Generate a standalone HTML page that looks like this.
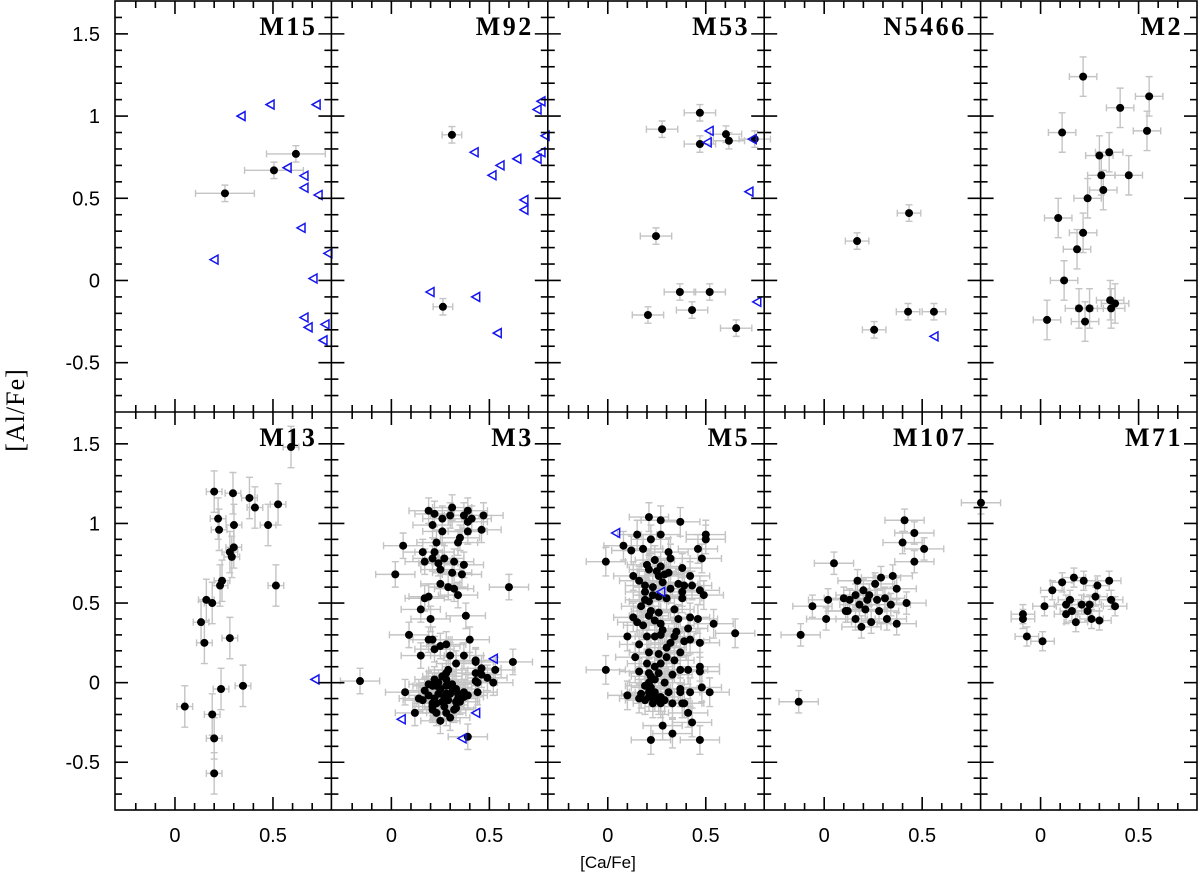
<!DOCTYPE html>
<html><head><meta charset="utf-8"><style>
body{margin:0;background:#fff;}
svg{display:block;}
</style></head><body>
<svg id="chart" width="1200" height="882" xmlns="http://www.w3.org/2000/svg">
<text x="0" y="0" transform="translate(24,410) rotate(-90)" text-anchor="middle" font-family="Liberation Serif, serif" font-size="26" letter-spacing="1">[Al/Fe]</text>
<text x="608" y="868" text-anchor="middle" font-family="Liberation Sans, sans-serif" font-size="17">[Ca/Fe]</text>
</svg>
<script>
const clusterNames=["M15","M92","M53","N5466","M2","M13","M3","M5","M107","M71"];
const xTickLabels=["0","0.5"];
const yTickLabels=["-0.5","0","0.5","1","1.5"];
const xerrs=[0.15,0.05,0.08,0.06,0.07,0.04,0.10,0.10,0.10,0.06];
const yerrs=[0.05,0.05,0.05,0.05,0.12,0.13,0.08,0.09,0.07,0.06];
const m15X=[0.255,0.505,0.617];
const m15Y=[0.53,0.67,0.77];
const m15TX=[0.337,0.485,0.72,0.572,0.658,0.658,0.73,0.643,0.78,0.199,0.704,0.658,0.679,0.765,0.755];
const m15TY=[1.0,1.07,1.07,0.686,0.637,0.564,0.52,0.32,0.165,0.127,0.012,-0.225,-0.285,-0.267,-0.364];
const m92X=[0.309,0.263];
const m92Y=[0.886,-0.16];
const m92TX=[0.743,0.763,0.784,0.763,0.743,0.422,0.64,0.554,0.513,0.676,0.676,0.197,0.43,0.54];
const m92TY=[1.04,1.09,0.88,0.78,0.74,0.78,0.74,0.70,0.64,0.49,0.43,-0.07,-0.10,-0.32];
const m53X=[0.277,0.47,0.47,0.603,0.618,0.75,0.246,0.368,0.52,0.43,0.205,0.655];
const m53Y=[0.92,1.02,0.83,0.89,0.85,0.86,0.27,-0.07,-0.07,-0.18,-0.21,-0.29];
const m53TX=[0.517,0.507,0.737,0.72,0.76];
const m53TY=[0.91,0.84,0.86,0.54,-0.13];
const n5466X=[0.168,0.433,0.255,0.428,0.56];
const n5466Y=[0.24,0.41,-0.30,-0.19,-0.19];
const n5466TX=[0.56];
const n5466TY=[-0.34];
const m2X=[0.217,0.406,0.554,0.543,0.11,0.30,0.35,0.31,0.32,0.24,0.45,0.09,0.217,0.186,0.12,0.033,0.196,0.227,0.25,0.36,0.355,0.38];
const m2Y=[1.24,1.05,1.12,0.91,0.90,0.76,0.78,0.64,0.55,0.50,0.64,0.38,0.29,0.19,0.0,-0.24,-0.17,-0.25,-0.17,-0.17,-0.12,-0.14];
const m13X=[0.592,0.2,0.296,0.38,0.22,0.301,0.475,0.526,0.408,0.225,0.30,0.28,0.29,0.24,0.23,0.16,0.19,0.133,0.15,0.28,0.515,0.347,0.235,0.05,0.19,0.2,0.2];
const m13Y=[1.48,1.20,1.19,1.16,1.03,0.99,0.99,1.12,1.10,0.96,0.85,0.82,0.79,0.64,0.61,0.52,0.50,0.38,0.25,0.28,0.61,-0.02,-0.04,-0.15,-0.20,-0.35,-0.57];
const m13TX=[0.714];
const m13TY=[0.02];
const m3X=[0.19,0.22,0.26,0.30,0.31,0.37,0.39,0.41,0.39,0.47,0.21,0.26,0.39,0.46,0.35,0.34,0.23,0.06,0.16,0.22,0.21,0.17,0.24,0.27,0.32,0.37,0.25,0.31,0.36,0.02,0.25,0.29,0.32,0.34,0.60,0.19,0.17,0.15,0.20,0.38,0.09,0.40,0.19,0.21,0.25,0.28,0.22,0.15,0.30,0.37,0.33,0.43,0.43,0.62,0.53,0.46,0.46,0.49,0.43,0.52,0.44,0.43,0.44,-0.16,0.07,0.29,0.28,0.26,0.22,0.21,0.17,0.19,0.22,0.24,0.28,0.31,0.33,0.34,0.37,0.39,0.14,0.16,0.21,0.26,0.29,0.33,0.34,0.28,0.24,0.12,0.23,0.25,0.28,0.30,0.32,0.21,0.39,0.37,0.30,0.27,0.23,0.28,0.21,0.35,0.25,0.31,0.19,0.27,0.33,0.23];
const m3Y=[1.08,1.06,1.03,1.05,1.10,1.05,1.08,1.03,1.01,1.05,0.99,0.95,0.95,0.96,0.91,0.88,0.88,0.86,0.82,0.82,0.78,0.76,0.75,0.78,0.76,0.74,0.71,0.69,0.68,0.68,0.62,0.60,0.59,0.55,0.60,0.54,0.53,0.46,0.40,0.42,0.30,0.27,0.27,0.27,0.23,0.24,0.21,0.17,0.17,0.17,0.12,0.14,0.13,0.13,0.08,0.09,0.05,0.03,0.06,0.00,0.00,0.01,-0.06,0.01,-0.06,0.08,0.06,0.04,0.02,-0.02,-0.05,-0.08,-0.10,-0.07,-0.02,-0.01,-0.04,-0.07,-0.09,-0.08,-0.10,-0.11,-0.13,-0.12,-0.11,-0.12,-0.10,-0.07,0.00,-0.19,-0.19,-0.24,-0.19,-0.22,-0.17,-0.15,-0.34,-0.06,-0.07,-0.09,-0.02,0.02,-0.17,-0.12,-0.04,-0.03,-0.01,-0.15,-0.16,-0.13];
const m3TX=[0.52,0.43,0.05,0.36];
const m3TY=[0.15,-0.19,-0.23,-0.35];
const m5X=[0.21,0.27,0.37,0.15,0.22,0.27,0.50,0.50,0.08,0.12,0.18,0.31,0.46,-0.01,0.32,0.48,0.20,0.24,0.27,0.38,0.21,0.26,0.29,0.31,0.13,0.16,0.19,0.23,0.28,0.32,0.36,0.39,0.42,0.43,0.38,0.19,0.26,0.30,0.38,0.47,0.49,0.19,0.21,0.17,0.34,0.21,0.26,0.24,0.27,0.13,0.15,0.18,0.36,0.42,0.46,0.41,0.35,0.34,0.39,0.42,0.47,0.54,0.65,0.10,0.20,0.24,0.27,0.16,0.32,0.14,0.21,0.26,0.30,0.37,0.34,0.27,0.24,0.21,0.16,0.33,0.37,0.41,0.47,0.47,-0.01,0.22,0.26,0.29,0.21,0.22,0.24,0.17,0.10,0.16,0.21,0.27,0.31,0.37,0.37,0.42,0.48,0.52,0.23,0.27,0.33,0.38,0.39,0.26,0.19,0.41,0.43,0.28,0.33,0.22,0.47,0.21,0.29,0.24,0.19,0.25,0.22,0.28,0.20,0.24,0.30,0.23];
const m5Y=[1.04,1.02,1.01,0.93,0.90,0.93,0.93,0.90,0.86,0.83,0.84,0.82,0.84,0.76,0.78,0.78,0.74,0.77,0.73,0.72,0.71,0.67,0.68,0.69,0.67,0.64,0.61,0.60,0.63,0.59,0.62,0.61,0.67,0.61,0.57,0.57,0.54,0.53,0.53,0.58,0.55,0.52,0.51,0.48,0.46,0.42,0.44,0.39,0.37,0.41,0.38,0.36,0.40,0.41,0.40,0.34,0.32,0.29,0.26,0.27,0.25,0.37,0.31,0.29,0.29,0.29,0.30,0.24,0.25,0.16,0.19,0.18,0.16,0.19,0.14,0.12,0.10,0.06,0.07,0.05,0.08,0.08,0.10,0.07,0.08,0.04,0.06,0.00,0.00,-0.03,-0.06,-0.07,-0.08,-0.10,-0.09,-0.09,-0.06,-0.04,-0.06,-0.06,-0.03,-0.06,-0.13,-0.13,-0.13,-0.13,-0.13,-0.11,-0.11,-0.19,-0.25,-0.27,-0.32,-0.36,-0.36,-0.06,-0.11,0.02,-0.02,0.70,0.45,0.33,0.12,-0.09,0.22,0.55];
const m5TX=[0.04,0.27];
const m5TY=[0.94,0.57];
const m107X=[0.80,0.41,0.46,0.40,0.51,0.46,0.05,0.17,0.29,0.37,0.42,0.34,-0.06,0.02,0.10,0.23,0.26,0.31,0.13,0.18,0.21,0.12,0.16,0.24,0.19,0.28,0.32,0.01,0.37,0.20,0.27,0.35,-0.12,-0.13,0.11,0.22,0.16];
const m107Y=[1.13,1.02,0.94,0.88,0.84,0.76,0.75,0.64,0.66,0.59,0.50,0.49,0.48,0.52,0.53,0.55,0.62,0.53,0.52,0.49,0.46,0.45,0.40,0.38,0.35,0.45,0.40,0.40,0.37,0.58,0.52,0.67,0.30,-0.12,0.45,0.52,0.55];
const m71X=[0.01,-0.07,-0.09,-0.09,0.02,0.06,0.11,0.17,0.22,0.29,0.35,0.28,0.36,0.38,0.15,0.21,0.13,0.16,0.24,0.18,0.13,0.26,0.30,0.25];
const m71Y=[0.26,0.29,0.43,0.40,0.48,0.58,0.63,0.66,0.64,0.61,0.64,0.54,0.52,0.48,0.52,0.49,0.49,0.45,0.45,0.38,0.43,0.40,0.39,0.49];

const dotsX=[m15X,m92X,m53X,n5466X,m2X,m13X,m3X,m5X,m107X,m71X];
const dotsY=[m15Y,m92Y,m53Y,n5466Y,m2Y,m13Y,m3Y,m5Y,m107Y,m71Y];
const triX=[m15TX,m92TX,m53TX,n5466TX,[],m13TX,m3TX,m5TX,[],[]];
const triY=[m15TY,m92TY,m53TY,n5466TY,[],m13TY,m3TY,m5TY,[],[]];

const svg=document.getElementById('chart');
const NS='http://www.w3.org/2000/svg';
const L=115,PW=216.4,XMIN=-0.306,XS=196;
const rows=[{top:1,bot:412},{top:412,bot:810}];
const YMIN=-0.8,YMAX=1.7;
function mk(tag,attrs,parent){const e=document.createElementNS(NS,tag);for(const k in attrs)e.setAttribute(k,attrs[k]);(parent||svg).appendChild(e);return e;}
function xs(col,v){return L+col*PW+(v-XMIN)*XS;}
function ys(row,v){const r=rows[row];return r.bot-(v-YMIN)/(YMAX-YMIN)*(r.bot-r.top);}

for(let p=0;p<10;p++){
  const row=Math.floor(p/5),col=p%5;
  const g=mk('g',{});
  
  
  const xe=xerrs[p],ye=yerrs[p];
  const X=dotsX[p],Y=dotsY[p];
  const eg=mk('g',{stroke:'#c4c4c4','stroke-width':1.4,fill:'none'},g);
  
  
  for(let i=0;i<X.length;i++){
    const cx=xs(col,X[i]),cy=ys(row,Y[i]);
    const x1=xs(col,X[i]-xe),x2=xs(col,X[i]+xe),y1=ys(row,Y[i]+ye),y2=ys(row,Y[i]-ye);
    mk('path',{d:`M${x1},${cy}H${x2}M${x1},${cy-3.5}v7M${x2},${cy-3.5}v7M${cx},${y1}V${y2}M${cx-3.5},${y1}h7M${cx-3.5},${y2}h7`},eg);
  }
  for(let i=0;i<X.length;i++){
    const c=mk('circle',{cx:xs(col,X[i]),cy:ys(row,Y[i]),r:4,fill:'#000'},g);
    
    
  }
  const TX=triX[p],TY=triY[p];
  for(let i=0;i<TX.length;i++){
    const cx=xs(col,TX[i]),cy=ys(row,TY[i]);
    const t=mk('path',{d:`M${cx-4},${cy}L${cx+4},${cy-4.5}L${cx+4},${cy+4.5}Z`,fill:'none',stroke:'#1515ee','stroke-width':1.5},g);
    
    
  }
  const lab=mk('text',{x:L+(col+1)*PW-14,y:rows[row].top+34,'text-anchor':'end','font-family':'Liberation Serif, serif','font-weight':'bold','font-size':26,'letter-spacing':'2.5'},g);
  lab.textContent=clusterNames[p];
  
  
}

const ax=mk('g',{stroke:'#000','stroke-width':1.6,fill:'none'});


mk('rect',{x:L,y:rows[0].top,width:5*PW,height:rows[1].bot-rows[0].top},ax);
mk('path',{d:`M${L},412H${L+5*PW}`},ax);
for(let c=1;c<5;c++)mk('path',{d:`M${L+c*PW},${rows[0].top}V${rows[1].bot}`},ax);
for(let r=0;r<2;r++){
  for(let k=-8;k<=17;k++){
    const v=k/10,y=ys(r,v),len=(k%5===0)?13:7;
    if(y<rows[r].top+1||y>rows[r].bot-1)continue;
    for(let c=0;c<=5;c++){
      const x=L+c*PW;
      const a=c===0?0:-len,b=c===5?0:len;
      mk('path',{d:`M${x+a},${y}H${x+b}`},ax);
    }
  }
}
for(let c=0;c<5;c++){
  for(let k=-3;k<=8;k++){
    const v=k/10,x=xs(c,v),len=(k%5===0)?13:7;
    if(x<L+c*PW+2||x>L+(c+1)*PW-2)continue;
    mk('path',{d:`M${x},${rows[0].top}v${len}`},ax);
    mk('path',{d:`M${x},${412-len}V${412+len}`},ax);
    mk('path',{d:`M${x},${rows[1].bot}v${-len}`},ax);
  }
}
for(let r=0;r<2;r++){
  yTickLabels.forEach(s=>{
    const t=mk('text',{x:100,y:ys(r,parseFloat(s))+7,'text-anchor':'end','font-family':'Liberation Sans, sans-serif','font-size':20});
    t.textContent=s;
    
    
  });
}
for(let c=0;c<5;c++){
  xTickLabels.forEach(s=>{
    const t=mk('text',{x:xs(c,parseFloat(s)),y:842,'text-anchor':'middle','font-family':'Liberation Sans, sans-serif','font-size':20});
    t.textContent=s;
    
    
  });
}
</script>
</body></html>
